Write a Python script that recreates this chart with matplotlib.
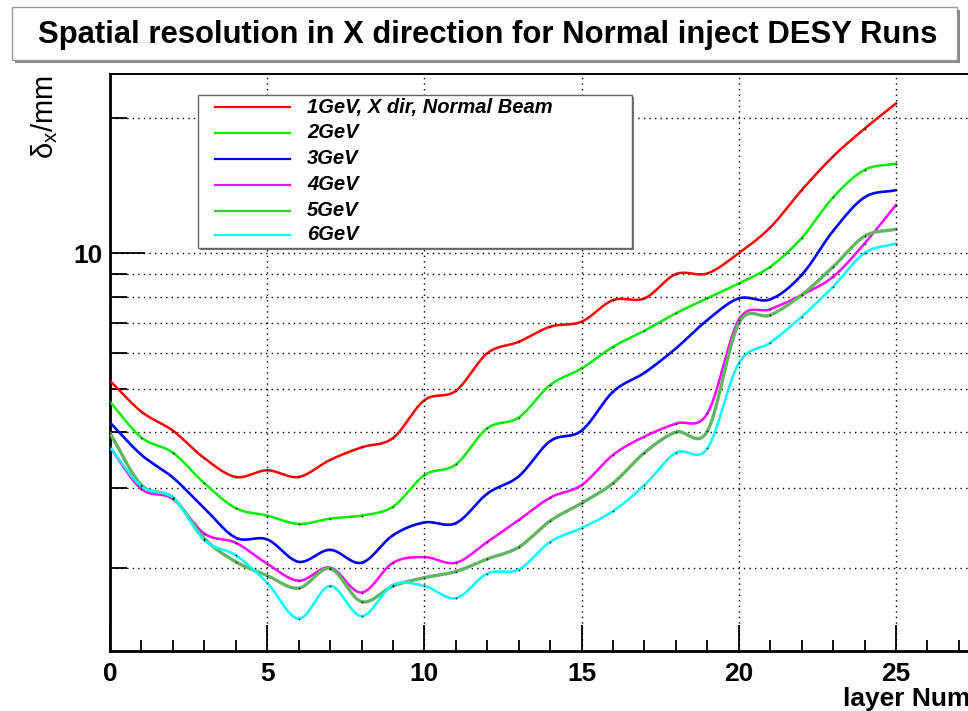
import numpy as np
import matplotlib
matplotlib.use("Agg")
import matplotlib.pyplot as plt
from matplotlib.patches import Rectangle
from matplotlib.lines import Line2D
from matplotlib.ticker import FixedLocator, NullFormatter, FixedFormatter

plt.rcParams["font.family"] = ["Liberation Sans", "DejaVu Sans"]
plt.rcParams["mathtext.fontset"] = "custom"
plt.rcParams["mathtext.rm"] = "Liberation Sans"
plt.rcParams["mathtext.it"] = "Liberation Sans:italic"

# ---- data: spatial resolution (mm) per layer for each beam energy ----
layers = np.arange(26)
res_1gev = [5.20, 4.44, 4.03, 3.50, 3.18, 3.29, 3.18, 3.47, 3.70, 3.88, 4.71, 4.94, 5.99,
            6.35, 6.86, 7.04, 7.86, 7.93, 8.98, 9.01, 10.0, 11.4, 13.8, 16.4, 18.9, 21.5]
res_2gev = [4.67, 3.89, 3.60, 3.08, 2.71, 2.61, 2.50, 2.57, 2.61, 2.73, 3.21, 3.39, 4.08,
            4.31, 5.09, 5.54, 6.19, 6.72, 7.35, 7.93, 8.56, 9.32, 10.8, 13.3, 15.3, 15.8]
res_3gev = [4.20, 3.56, 3.17, 2.71, 2.33, 2.31, 2.06, 2.19, 2.05, 2.36, 2.52, 2.51, 2.92,
            3.19, 3.82, 4.03, 4.92, 5.42, 6.14, 7.10, 7.93, 7.89, 8.94, 11.2, 13.3, 13.8]
res_4gev = [3.70, 2.99, 2.84, 2.38, 2.27, 2.04, 1.87, 2.00, 1.76, 2.05, 2.11, 2.05, 2.28,
            2.55, 2.86, 3.05, 3.56, 3.91, 4.18, 4.40, 7.10, 7.50, 8.07, 8.86, 10.5, 12.8]
res_5gev = [3.98, 3.05, 2.86, 2.32, 2.06, 1.92, 1.80, 1.99, 1.68, 1.82, 1.90, 1.96, 2.09,
            2.22, 2.54, 2.78, 3.08, 3.60, 4.00, 4.02, 6.98, 7.28, 8.07, 9.32, 10.9, 11.3]
res_6gev = [3.70, 3.03, 2.86, 2.30, 2.13, 1.85, 1.54, 1.82, 1.56, 1.83, 1.82, 1.71, 1.94,
            1.98, 2.28, 2.45, 2.67, 3.05, 3.60, 3.68, 5.69, 6.32, 7.22, 8.42, 10.0, 10.5]

series_labels = ["1GeV, X dir, Normal Beam", "2GeV", "3GeV", "4GeV", "5GeV", "6GeV"]
series_values = [res_1gev, res_2gev, res_3gev, res_4gev, res_5gev, res_6gev]
series_colors = ["#ff0000", "#00ee00", "#0000ff", "#ff00ff", "#62b562", "#00ffff"]
legend_colors = ["#ff0000", "#00ee00", "#0000ff", "#ff00ff", "#33cc33", "#00ffff"]
series_widths = [1.8, 1.8, 1.9, 1.8, 2.4, 1.8]

title = "Spatial resolution in X direction for Normal inject DESY Runs"
x_title = "layer Number"
y_title = r"$\mathrm{\delta_{x}/mm}$"


def smooth_curve(x, y, n=24):
    """Cubic Hermite (Catmull-Rom style) curve through the points, in log space."""
    x = np.asarray(x, float)
    ly = np.log10(np.asarray(y, float))
    m = np.gradient(ly, x)
    t = np.linspace(0.0, 1.0, n, endpoint=False)
    h00 = 2 * t**3 - 3 * t**2 + 1
    h10 = t**3 - 2 * t**2 + t
    h01 = -2 * t**3 + 3 * t**2
    h11 = t**3 - t**2
    xs, ys = [], []
    for i in range(len(x) - 1):
        h = x[i + 1] - x[i]
        xs.append(x[i] + t * h)
        ys.append(h00 * ly[i] + h10 * h * m[i] + h01 * ly[i + 1] + h11 * h * m[i + 1])
    xs.append([x[-1]])
    ys.append([ly[-1]])
    return np.concatenate(xs), 10 ** np.concatenate(ys)


W, H = 968, 711
fig = plt.figure(figsize=(W / 100, H / 100), dpi=100)
fig.patch.set_facecolor("white")


def fx(px):
    return px / W


def fy(py):
    return 1 - py / H


# axes: left edge at x=110 px, 31.44 px per layer, runs past the right border
px_per_layer = 31.44
x_max = 30
ax = fig.add_axes([fx(110), fy(651), x_max * px_per_layer / W, (651 - 74) / H])
ax.set_yscale("log")
ax.set_xlim(0, x_max)
ax.set_ylim(1.305, 25.0)

for vals, col, lw in zip(series_values, series_colors, series_widths):
    xs, ys = smooth_curve(layers, vals)
    ax.plot(xs, ys, color=col, lw=lw, solid_capstyle="round", zorder=3)
    ax.plot(layers, vals, ls="none", marker="o", ms=1.3, mfc="#222222",
            mec="none", zorder=4)

# ticks
ax.xaxis.set_major_locator(FixedLocator([0, 5, 10, 15, 20, 25]))
ax.xaxis.set_minor_locator(FixedLocator(np.arange(0, 31, 1)))
ax.yaxis.set_major_locator(FixedLocator([10]))
ax.yaxis.set_major_formatter(FixedFormatter(["10"]))
ax.yaxis.set_minor_locator(FixedLocator([2, 3, 4, 5, 6, 7, 8, 9, 20]))
ax.yaxis.set_minor_formatter(NullFormatter())

ax.tick_params(axis="x", which="major", direction="in", length=19, width=1.3,
               pad=8, labelsize=19)
ax.tick_params(axis="x", which="minor", direction="in", length=8, width=1.3)
ax.tick_params(axis="y", which="major", direction="in", length=25, width=1.3,
               pad=5, labelsize=19)
ax.tick_params(axis="y", which="minor", direction="in", length=12, width=1.3)
for lab in ax.get_xticklabels() + ax.get_yticklabels():
    lab.set_fontweight("bold")

grid_style = dict(color="black", lw=1.0, ls=(0, (1, 3)))
ax.grid(True, axis="x", which="major", **grid_style)
ax.grid(True, axis="y", which="both", **grid_style)
ax.set_axisbelow(True)

ax.spines["left"].set_linewidth(2.0)
ax.spines["bottom"].set_linewidth(2.0)
ax.spines["top"].set_linewidth(1.4)
ax.spines["right"].set_visible(False)

# axis titles
fig.text(fx(843), fy(706), x_title, fontsize=19, fontweight="bold",
         ha="left", va="baseline")
fig.text(fx(45), fy(75), y_title, fontsize=21, rotation=90,
         ha="center", va="top")

# title box with shadow
fig.add_artist(Rectangle((fx(15), fy(63)), fx(957 - 12), (60 - 7) / H,
                         transform=fig.transFigure, facecolor="#888888",
                         edgecolor="none", zorder=1))
fig.add_artist(Rectangle((fx(12), fy(60)), fx(957 - 12), (60 - 7) / H,
                         transform=fig.transFigure, facecolor="white",
                         edgecolor="#999999", lw=1.0, zorder=2))
fig.text(fx(488), fy(43.5), title, fontsize=22.3, fontweight="bold",
         ha="center", va="baseline", zorder=3)

# legend box with shadow
lx0, ly0, lx1, ly1 = 198, 95, 632, 248
fig.add_artist(Rectangle((fx(lx0 + 2), fy(ly1 + 2)), fx(lx1 - lx0), (ly1 - ly0) / H,
                         transform=fig.transFigure, facecolor="#777777",
                         edgecolor="none", zorder=5))
fig.add_artist(Rectangle((fx(lx0), fy(ly1)), fx(lx1 - lx0), (ly1 - ly0) / H,
                         transform=fig.transFigure, facecolor="white",
                         edgecolor="#666666", lw=1.0, zorder=6))
row_y = [107, 133, 159, 185, 211, 235]
for yy, lab, col in zip(row_y, series_labels, legend_colors):
    fig.add_artist(Line2D([fx(215), fx(290)], [fy(yy), fy(yy)],
                          transform=fig.transFigure, color=col, lw=1.6, zorder=7))
    fig.text(fx(307), fy(yy), lab, fontsize=14.5, fontweight="bold",
             fontstyle="italic", ha="left", va="center", zorder=8)

fig.savefig("out.png", dpi=100)
